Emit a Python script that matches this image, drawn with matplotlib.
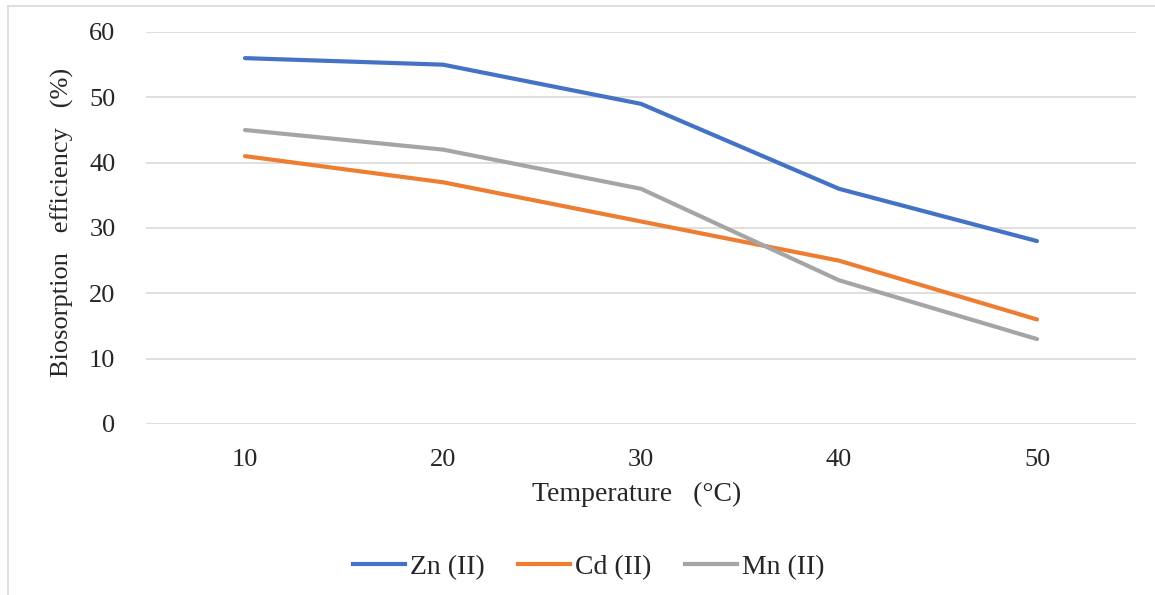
import matplotlib
matplotlib.use("Agg")
import matplotlib.pyplot as plt
from matplotlib.lines import Line2D

# ---------------------------------------------------------------------
# Data
# ---------------------------------------------------------------------
TEMPERATURES = ["10", "20", "30", "40", "50"]
ZN_VALUES = [56, 55, 49, 36, 28]
CD_VALUES = [41, 37, 31, 25, 16]
MN_VALUES = [45, 42, 36, 22, 13]
SERIES_LABELS = ["Zn (II)", "Cd (II)", "Mn (II)"]
Y_TICKS = [0, 10, 20, 30, 40, 50, 60]

# ---------------------------------------------------------------------
# Style
# ---------------------------------------------------------------------
COLORS = ["#4472C4", "#ED7D31", "#A5A5A5"]
TEXT_COLOR = "#262626"
LINE_WIDTH = 3.0
plt.rcParams["font.family"] = ["Liberation Serif", "DejaVu Serif"]

W, H = 1155, 595
fig = plt.figure(figsize=(W / 100, H / 100), dpi=100)
ax = fig.add_axes([146 / W, 1 - 424 / H, (1136 - 146) / W, (424 - 32) / H])

x = list(range(len(TEMPERATURES)))
for values, color, label in zip([ZN_VALUES, CD_VALUES, MN_VALUES], COLORS, SERIES_LABELS):
    ax.plot(x, values, color=color, linewidth=LINE_WIDTH, label=label,
            solid_capstyle="round", solid_joinstyle="round", zorder=3)

ax.set_xlim(-0.5, len(TEMPERATURES) - 0.5)
ax.set_ylim(0, 60)
ax.set_xticks(x)
ax.set_xticklabels(TEMPERATURES)
ax.set_yticks(Y_TICKS)
ax.yaxis.grid(True, color="#D9D9D9", linewidth=1.2)
ax.set_axisbelow(True)
for side in ["top", "right", "left", "bottom"]:
    ax.spines[side].set_visible(False)
ax.tick_params(axis="both", length=0, labelsize=19, colors=TEXT_COLOR)
ax.tick_params(axis="y", pad=22)
ax.tick_params(axis="x", pad=18)

fig.text(62 / W, 1 - 222 / H, "Biosorption   efficiency   (%)", rotation=90,
         ha="center", va="center", fontsize=19, color=TEXT_COLOR)
fig.text(637 / W, 1 - 494 / H, "Temperature   (\u00b0C)",
         ha="center", va="center", fontsize=20, color=TEXT_COLOR)

handles = [Line2D([0], [0], color=c, linewidth=LINE_WIDTH) for c in COLORS]
fig.legend(handles, SERIES_LABELS, loc="center", bbox_to_anchor=(589 / W, 1 - 567 / H),
           ncol=3, frameon=False, fontsize=20, handlelength=1.85, handletextpad=0.2,
           columnspacing=1.2, labelcolor=TEXT_COLOR)

# Chart border (only top and left edges are visible in the reference)
fig.add_artist(Line2D([8 / W, 1.0], [1 - 6 / H, 1 - 6 / H], color="#D9D9D9",
                      linewidth=1.2, transform=fig.transFigure))
fig.add_artist(Line2D([8 / W, 8 / W], [0.0, 1 - 6 / H], color="#D9D9D9",
                      linewidth=1.2, transform=fig.transFigure))

fig.savefig("out.png", dpi=100, facecolor="white")
